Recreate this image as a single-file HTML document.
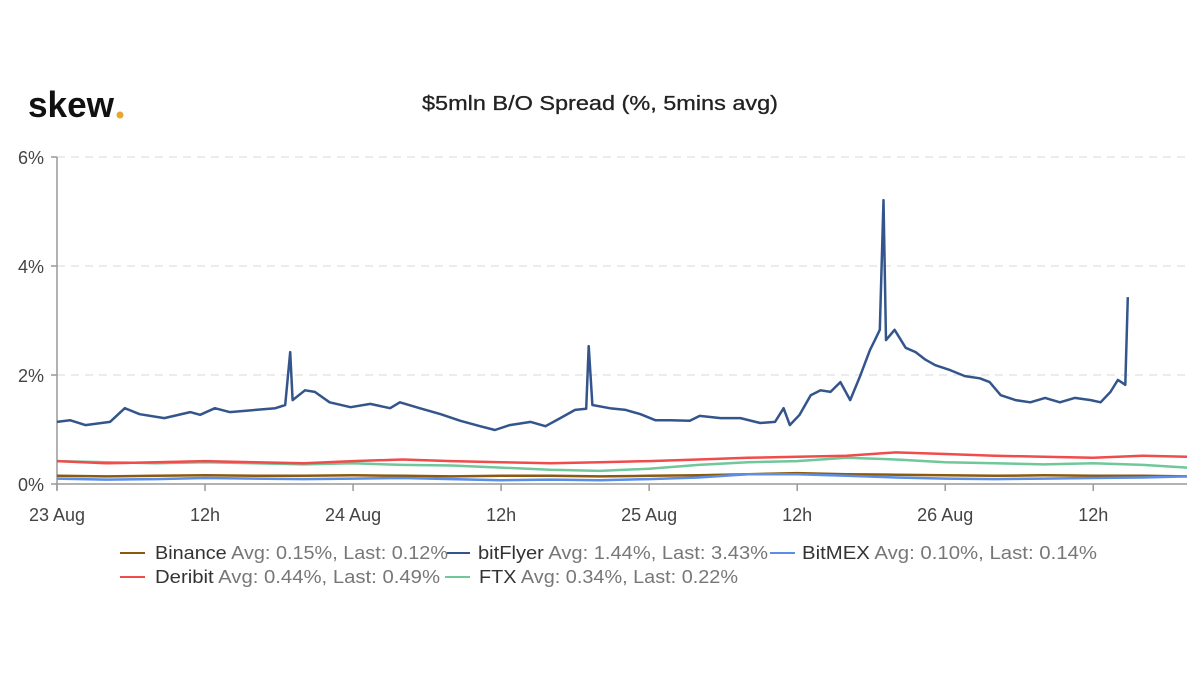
<!DOCTYPE html>
<html><head><meta charset="utf-8">
<style>
body{margin:0;background:#fff;width:1200px;height:670px;overflow:hidden;font-family:"Liberation Sans",sans-serif;}
svg text{font-family:"Liberation Sans",sans-serif;}
</style></head><body>
<svg id="chart" width="1200" height="670" viewBox="0 0 1200 670">
<text x="28" y="117" font-size="36" font-weight="bold" fill="#111" textLength="86" lengthAdjust="spacingAndGlyphs">skew</text>
<circle cx="120" cy="115" r="3.5" fill="#e8a630"/>
<text x="600" y="110" text-anchor="middle" font-size="20" fill="#222" textLength="356" lengthAdjust="spacingAndGlyphs" stroke="#222" stroke-width="0.3">$5mln B/O Spread (%, 5mins avg)</text>
<g id="grid"></g><g id="axes"></g><g id="series"></g>
<g id="legend" font-size="18">
 <line x1="120" y1="553" x2="145" y2="553" stroke="#8b5a0f" stroke-width="2"/>
 <text x="155" y="559" textLength="293" lengthAdjust="spacingAndGlyphs"><tspan fill="#333">Binance</tspan><tspan fill="#777"> Avg: 0.15%, Last: 0.12%</tspan></text>
 <line x1="447" y1="553" x2="470" y2="553" stroke="#34558b" stroke-width="2"/>
 <text x="478" y="559" textLength="290" lengthAdjust="spacingAndGlyphs"><tspan fill="#333">bitFlyer</tspan><tspan fill="#777"> Avg: 1.44%, Last: 3.43%</tspan></text>
 <line x1="770" y1="553" x2="795" y2="553" stroke="#5b8ee6" stroke-width="2"/>
 <text x="802" y="559" textLength="295" lengthAdjust="spacingAndGlyphs"><tspan fill="#333">BitMEX</tspan><tspan fill="#777"> Avg: 0.10%, Last: 0.14%</tspan></text>
 <line x1="120" y1="577" x2="145" y2="577" stroke="#f04c4c" stroke-width="2"/>
 <text x="155" y="583" textLength="285" lengthAdjust="spacingAndGlyphs"><tspan fill="#333">Deribit</tspan><tspan fill="#777"> Avg: 0.44%, Last: 0.49%</tspan></text>
 <line x1="445" y1="577" x2="470" y2="577" stroke="#6fc79a" stroke-width="2"/>
 <text x="479" y="583" textLength="259" lengthAdjust="spacingAndGlyphs"><tspan fill="#333">FTX</tspan><tspan fill="#777"> Avg: 0.34%, Last: 0.22%</tspan></text>
</g>
</svg>
<script>
const yTicks=[0,2,4,6];
const yTickLabels=["0%","2%","4%","6%"];
const xTicks=[0,12,24,36,48,60,72,84];
const xTickLabels=["23 Aug","12h","24 Aug","12h","25 Aug","12h","26 Aug","12h"];
const bfHours=[0,1.05,2.3,4.3,5.5,6.7,8.7,10.8,11.6,12.8,14.0,16.1,17.7,18.5,18.9,19.1,20.1,20.9,22.1,23.8,25.4,27.0,27.8,29.4,31.1,32.7,34.3,35.5,36.7,38.4,39.6,40.8,42.0,42.9,43.1,43.4,44.8,46.1,47.3,48.5,49.7,51.3,52.1,53.8,55.4,57.0,58.2,58.9,59.4,60.2,61.1,61.9,62.7,63.5,64.3,65.1,65.9,66.3,66.7,67.0,67.2,67.9,68.8,69.6,70.4,71.2,72.4,73.6,74.8,75.6,76.5,77.7,78.9,80.1,81.3,82.5,83.8,84.6,85.4,86.0,86.6,86.8];
const bfValues=[1.14,1.17,1.08,1.14,1.39,1.28,1.21,1.32,1.27,1.39,1.32,1.36,1.39,1.45,2.42,1.54,1.72,1.69,1.50,1.41,1.47,1.39,1.50,1.39,1.28,1.16,1.06,0.99,1.08,1.14,1.06,1.21,1.36,1.38,2.53,1.45,1.39,1.36,1.28,1.17,1.17,1.16,1.25,1.21,1.21,1.12,1.14,1.39,1.08,1.27,1.63,1.72,1.69,1.87,1.54,1.98,2.46,2.64,2.83,5.21,2.64,2.83,2.50,2.42,2.28,2.18,2.09,1.98,1.94,1.87,1.63,1.54,1.50,1.58,1.50,1.58,1.54,1.50,1.69,1.91,1.82,3.43];
const otherHours=[0,4,8,12,16,20,24,28,32,36,40,44,48,52,56,60,64,68,72,76,80,84,88,91.6];
const deribitValues=[0.42,0.38,0.40,0.42,0.40,0.38,0.42,0.45,0.42,0.40,0.38,0.40,0.42,0.45,0.48,0.50,0.52,0.58,0.55,0.52,0.50,0.48,0.52,0.50];
const ftxValues=[0.42,0.40,0.38,0.40,0.38,0.36,0.38,0.35,0.34,0.30,0.26,0.24,0.28,0.35,0.40,0.42,0.48,0.45,0.40,0.38,0.36,0.38,0.35,0.30];
const binanceValues=[0.15,0.14,0.15,0.16,0.15,0.15,0.16,0.15,0.14,0.15,0.15,0.14,0.15,0.16,0.18,0.20,0.18,0.17,0.16,0.15,0.16,0.15,0.15,0.14];
const bitmexValues=[0.10,0.08,0.09,0.11,0.10,0.09,0.10,0.11,0.09,0.07,0.08,0.07,0.09,0.12,0.18,0.18,0.15,0.12,0.10,0.09,0.10,0.11,0.12,0.14];

const NS="http://www.w3.org/2000/svg";
const X0=57,X1=1187,Y0=484,Y6=157,HMAX=91.6;
function xs(h){return X0+(X1-X0)*h/HMAX;}
function ys(v){return Y0-(Y0-Y6)*v/6;}
function mk(tag,attrs,parent){const e=document.createElementNS(NS,tag);for(const k in attrs)e.setAttribute(k,attrs[k]);document.getElementById(parent).appendChild(e);return e;}
yTicks.forEach((t,i)=>{
  if(t>0){const g=mk('line',{x1:X0,x2:1190,y1:ys(t),y2:ys(t),stroke:'#e6e6e6','stroke-width':1.5,'stroke-dasharray':'8,6'},'grid');
  
  }
  const tk=mk('line',{x1:X0-6,x2:X0,y1:ys(t),y2:ys(t),stroke:'#999','stroke-width':1.5},'axes');
  
  
  const l=mk('text',{x:X0-13,y:ys(t)+7,'text-anchor':'end','font-size':18,fill:'#444'},'axes');
  l.textContent=yTickLabels[i];
  
  
});
const ya=mk('line',{x1:X0,x2:X0,y1:Y6,y2:Y0+6,stroke:'#999','stroke-width':1.5},'axes');


const xa=mk('line',{x1:X0,x2:X1,y1:Y0,y2:Y0,stroke:'#999','stroke-width':1.5},'axes');


xTicks.forEach((t,i)=>{
  const tk=mk('line',{x1:xs(t),x2:xs(t),y1:Y0,y2:Y0+7,stroke:'#999','stroke-width':1.5},'axes');
  
  
  const l=mk('text',{x:xs(t),y:Y0+37,'text-anchor':'middle','font-size':18,fill:'#444'},'axes');
  l.textContent=xTickLabels[i];
  
  
});
function line(hs,vs,color,name){
  const d=hs.map((h,i)=>(i?'L':'M')+xs(h).toFixed(1)+','+ys(vs[i]).toFixed(1)).join('');
  const p=mk('path',{d:d,fill:'none',stroke:color,'stroke-width':2.5,'stroke-linejoin':'round'},'series');
  
  
}
line(otherHours,ftxValues,'#6fc79a','ftx-line');
line(otherHours,deribitValues,'#f04c4c','deribit-line');
line(otherHours,binanceValues,'#8b5a0f','binance-line');
line(otherHours,bitmexValues,'#5b8ee6','bitmex-line');
line(bfHours,bfValues,'#34558b','bitflyer-line');
</script>
</body></html>
